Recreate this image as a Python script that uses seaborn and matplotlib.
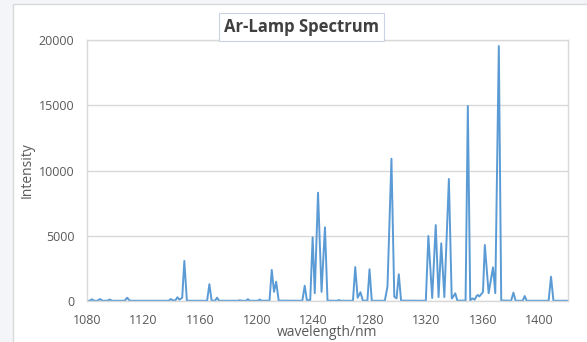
import numpy as np
import matplotlib.pyplot as plt
import seaborn as sns
from matplotlib.patches import Rectangle

# wavelength (nm) / intensity
wavelength = [1080, 1082, 1083.5, 1085, 1087.5, 1089.2, 1091, 1094.3, 1096, 1097.7,
              1106.6, 1108.4, 1110.2, 1137.8, 1139.2, 1140.8, 1142.6, 1143.9, 1145.3,
              1147.3, 1148.8, 1150.6, 1164.9, 1166.5, 1168.1, 1170.6, 1171.9, 1173.4,
              1186.8, 1188, 1189.2, 1192.4, 1193.7, 1195, 1200.8, 1202.1, 1203.4,
              1209, 1210.6, 1212.2, 1213.7, 1215.5, 1232.2, 1233.9, 1235.4, 1237.8,
              1239.5, 1241, 1243.3, 1245.8, 1248.2, 1250, 1256.5, 1258, 1259.5,
              1268, 1269.6, 1271.3, 1273.3, 1275, 1278.2, 1279.7, 1281.3, 1290.5,
              1292.4, 1295.2, 1297.2, 1298.8, 1300.4, 1302, 1319.5, 1321.3, 1324,
              1326.5, 1328.5, 1330.4, 1332.6, 1335.8, 1337.8, 1339, 1340.3, 1341.8,
              1347.6, 1349.2, 1350.9, 1352.5, 1354, 1355.5, 1356.3, 1357.3, 1358.5,
              1359.9, 1361.2, 1363.9, 1367, 1368.6, 1371.1, 1372.8, 1379.8, 1381.4,
              1383, 1388, 1389.4, 1390.8, 1406.3, 1408, 1409.7, 1420]
intensity = [20, 20, 130, 20, 20, 150, 20, 20, 110, 20,
             20, 250, 20, 20, 150, 40, 60, 290, 100,
             250, 3070, 20, 20, 1290, 30, 30, 250, 20,
             20, 60, 20, 20, 140, 20, 20, 110, 20,
             30, 2380, 700, 1480, 30, 20, 1170, 60, 80,
             4880, 600, 8300, 700, 5650, 30, 20, 70, 20,
             20, 2600, 250, 670, 30, 20, 2430, 20, 20,
             1100, 10900, 330, 200, 2050, 30, 20, 4980, 230,
             5820, 300, 4420, 300, 9350, 200, 350, 590, 30,
             30, 14940, 50, 200, 100, 400, 460, 350, 500,
             700, 4290, 600, 2580, 600, 19540, 40, 20, 640,
             20, 20, 380, 20, 20, 1860, 20, 20]

sns.set_theme(style="white")
plt.rcParams['font.family'] = ['Open Sans', 'DejaVu Sans']

fig = plt.figure(figsize=(5.87, 3.42), dpi=100)
fig.patch.set_facecolor('#f3f5f9')
W, H = 587, 342
# chart frame (Excel style), drawn behind the axes
frame = Rectangle((12.5 / W, -0.1), 1.0, 338 / H + 0.1, transform=fig.transFigure,
                  facecolor='white', edgecolor='#d9d9d9', lw=1, zorder=-10)
fig.patches.append(frame)

ax = fig.add_axes([87 / W, (H - 301) / H, (568 - 87) / W, (301 - 40) / H])
ax.set_zorder(1)
sns.lineplot(x=wavelength, y=intensity, ax=ax, color='#5b9bd5', lw=1.4)

ax.set_xlim(1080, 1420)
ax.set_ylim(0, 20000)
ax.set_xticks(np.arange(1080, 1401, 40))
ax.set_yticks(np.arange(0, 20001, 5000))
ax.grid(axis='y', color='#d9d9d9', lw=1)
ax.set_axisbelow(True)
for s in ax.spines.values():
    s.set_color('#d9d9d9')
    s.set_linewidth(1)
ax.tick_params(axis='both', length=0, labelsize=9, colors='#595959')
ax.tick_params(axis='y', pad=9)
ax.tick_params(axis='x', pad=9)
ax.set_xlabel('wavelength/nm', fontsize=10, color='#595959', labelpad=-1)
ax.set_ylabel('Intensity', fontsize=10, color='#595959', labelpad=3)

title = fig.text(301 / W, 1 - 27 / H, 'Ar-Lamp Spectrum', ha='center', va='center', fontsize=12,
                 fontweight='bold', color='#404040', zorder=5,
                 bbox=dict(boxstyle='square,pad=0.3', facecolor='white', edgecolor='#c9d3e6', lw=0.8))

fig.savefig('out.png', dpi=100)
